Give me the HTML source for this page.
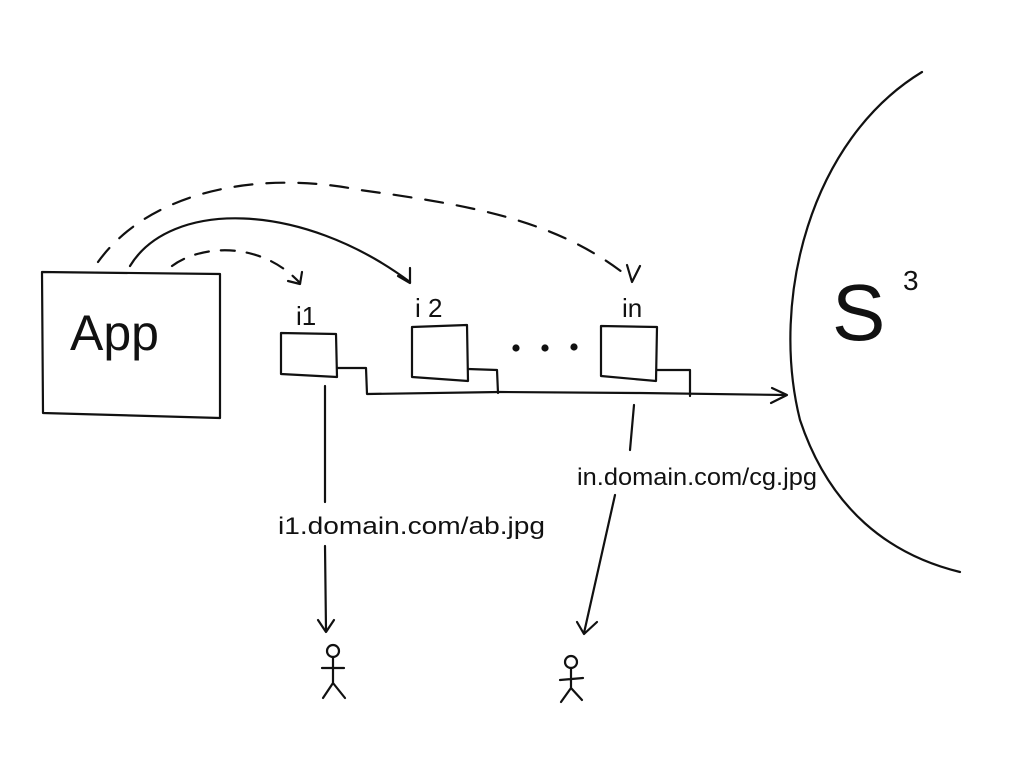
<!DOCTYPE html>
<html><head><style>html,body{margin:0;background:#fff;width:1024px;height:768px;overflow:hidden}</style></head>
<body>
<svg width="1024" height="768" viewBox="0 0 1024 768" xmlns="http://www.w3.org/2000/svg" fill="none" stroke="#111" stroke-width="2.2" stroke-linecap="round" stroke-linejoin="round">
<path d="M42 272 L220 274 L220 418 L43 413 Z"/>
<text x="70" y="350" font-family="Liberation Sans, sans-serif" font-size="50" fill="#111" stroke="none" font-weight="300">App</text>
<path d="M98 262 C150 190 260 170 360 190 C470 205 560 220 632 280" stroke-dasharray="18 14"/>
<path d="M627 265 L632 282 L640 266"/>
<path d="M130 266 C170 200 300 200 410 282"/>
<path d="M398 276 L410 283 L410 268"/>
<path d="M172 266 C200 245 260 240 300 283" stroke-dasharray="14 12"/>
<path d="M288 281 L300 284 L302 272"/>
<text x="296" y="325" font-family="Liberation Sans, sans-serif" font-size="26" fill="#111" stroke="none">i1</text>
<text x="415" y="317" font-family="Liberation Sans, sans-serif" font-size="26" fill="#111" stroke="none">i 2</text>
<text x="622" y="317" font-family="Liberation Sans, sans-serif" font-size="26" fill="#111" stroke="none">in</text>
<path d="M281 333 L336 334 L337 377 L281 374 Z"/>
<path d="M412 327 L467 325 L468 381 L412 377 Z"/>
<path d="M601 326 L657 327 L656 381 L601 376 Z"/>
<path d="M337 368 L366 368 L367 394 L500 392 L640 393 L785 395"/>
<path d="M468 369 L497 370 L498 393"/>
<path d="M657 370 L690 370 L690 396"/>
<path d="M772 388 L787 395 L771 403"/>
<circle cx="516" cy="348" r="2.5" fill="#111"/>
<circle cx="545" cy="348" r="2.5" fill="#111"/>
<circle cx="574" cy="347" r="2.5" fill="#111"/>
<path d="M922 72 C810 140 770 300 800 420 C830 510 890 555 960 572"/>
<text x="832" y="340" font-family="Liberation Sans, sans-serif" font-size="80" fill="#111" stroke="none" font-weight="300">S</text>
<text x="903" y="290" font-family="Liberation Sans, sans-serif" font-size="28" fill="#111" stroke="none">3</text>
<path d="M325 386 L325 502"/>
<path d="M325 546 L326 630"/>
<path d="M318 620 L326 632 L334 620"/>
<path d="M634 405 L630 450"/>
<path d="M615 495 L584 633"/>
<path d="M577 622 L584 634 L597 622"/>
<text x="278" y="534" textLength="267" lengthAdjust="spacingAndGlyphs" font-family="Liberation Sans, sans-serif" font-size="24" fill="#111" stroke="none">i1.domain.com/ab.jpg</text>
<text x="577" y="485" textLength="240" lengthAdjust="spacingAndGlyphs" font-family="Liberation Sans, sans-serif" font-size="24" fill="#111" stroke="none">in.domain.com/cg.jpg</text>
<circle cx="333" cy="651" r="6"/>
<path d="M333 657 L333 683 M322 668 L344 668 M333 683 L323 698 M333 683 L345 698"/>
<circle cx="571" cy="662" r="6"/>
<path d="M571 668 L571 688 M560 680 L583 678 M571 688 L561 702 M571 688 L582 700"/>
</svg>
</body></html>
